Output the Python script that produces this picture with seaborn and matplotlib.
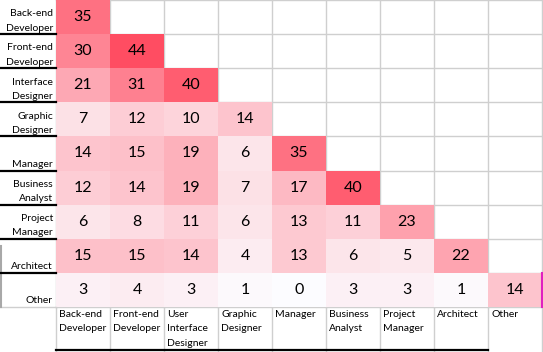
import numpy as np
import pandas as pd
import matplotlib
matplotlib.use("Agg")
import matplotlib.pyplot as plt
import seaborn as sns
from matplotlib.colors import LinearSegmentedColormap

# roles, as rows (left) and columns (bottom)
row_labels = ["Back-end\nDeveloper", "Front-end\nDeveloper", "Interface\nDesigner",
              "Graphic\nDesigner", "Manager", "Business\nAnalyst", "Project\nManager",
              "Architect", "Other"]
col_labels = ["Back-end\nDeveloper", "Front-end\nDeveloper", "User\nInterface\nDesigner",
              "Graphic\nDesigner", "Manager", "Business\nAnalyst", "Project\nManager",
              "Architect", "Other"]

# lower triangle of the overlap counts, row by row
rows = [
    [35],
    [30, 44],
    [21, 31, 40],
    [7, 12, 10, 14],
    [14, 15, 19, 6, 35],
    [12, 14, 19, 7, 17, 40],
    [6, 8, 11, 6, 13, 11, 23],
    [15, 15, 14, 4, 13, 6, 5, 22],
    [3, 4, 3, 1, 0, 3, 3, 1, 14],
]

n = len(row_labels)
mat = np.full((n, n), np.nan)
for i, r in enumerate(rows):
    mat[i, :len(r)] = r
df = pd.DataFrame(mat, index=row_labels, columns=col_labels)

plt.rcParams['font.family'] = ['Lato', 'DejaVu Sans']
cmap = LinearSegmentedColormap.from_list("xl", ["#FCFCFF", "#FF4D62"])

fig = plt.figure(figsize=(5.43, 3.52), dpi=100)
ax = fig.add_axes([56 / 543, 45 / 352, 486 / 543, 307 / 352])

sns.heatmap(df, ax=ax, mask=np.isnan(mat), cmap=cmap, vmin=0, vmax=44,
            cbar=False, annot=True, fmt=".0f", linewidths=0,
            annot_kws={"fontsize": 11.5, "color": "black"})
ax.set_xticks([])
ax.set_yticks([])
ax.set_xlabel("")
ax.set_ylabel("")

px_x = 1 / 54.0     # data units per pixel
px_y = 1 / 34.1
grey = "#CFCFCF"
left = -56 * px_x
bot = 9 + 45 * px_y

# spreadsheet grid under the cells
for k in range(n + 1):
    ax.plot([0, n], [k, k], color=grey, lw=1, zorder=0.5, clip_on=False)
    ax.plot([k, k], [0, n], color=grey, lw=1, zorder=0.5, clip_on=False)
    ax.plot([k, k], [n, bot], color=grey, lw=1, zorder=0.5, clip_on=False)
ax.plot([left, 0], [n, n], color=grey, lw=1, clip_on=False)
ax.plot([left + px_x, left + px_x], [7.2, n], color="#A8A8A8", lw=1.5, clip_on=False)

# row labels with black underline
for i, lab in enumerate(row_labels):
    ax.text(-3 * px_x, i + 1 - 1.5 * px_y, lab, ha="right", va="bottom",
            multialignment="right", fontsize=7.5, linespacing=1.75, clip_on=False)
    if i < n - 1:
        ax.plot([left, 0], [i + 1, i + 1], color="black", lw=1.6, clip_on=False)

# column labels
for j, lab in enumerate(col_labels):
    ax.text(j + 3 * px_x, n + 3 * px_y, lab, ha="left", va="top",
            fontsize=7.5, linespacing=1.75, clip_on=False)
ax.plot([0, n - 1], [9 + 43 * px_y, 9 + 43 * px_y], color="black", lw=1.6, clip_on=False)

# cell selection edge
ax.plot([n, n], [n - 1, n], color="#E020C0", lw=1.5, clip_on=False)

fig.savefig("out.png", dpi=100)
